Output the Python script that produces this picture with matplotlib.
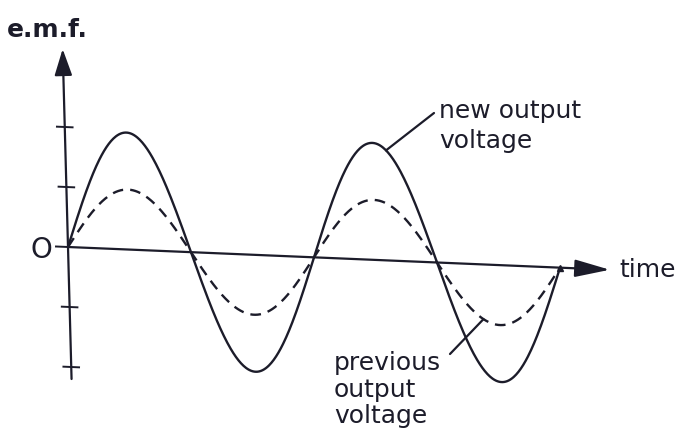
import numpy as np
import matplotlib
matplotlib.use("Agg")
import matplotlib.pyplot as plt
import matplotlib.transforms as mtransforms

INK = "#1c1c2a"
plt.rcParams.update({"font.family": "DejaVu Sans", "font.size": 18})

# wave parameters (one grid unit = one tick spacing)
period = 4.1
cycles = 2
new_amp = 1.95
prev_amp = 1.0
tick_values = [-2, -1, 1, 2]
y_axis_range = (-2.2, 3.3)
t_axis_end = 9.03

fig = plt.figure(figsize=(6.77, 4.35), dpi=100)
ax = fig.add_axes([0, 0, 1, 1])
ax.set_xlim(-68 / 60, (677 - 68) / 60)
ax.set_ylim(-(435 - 248) / 60, 248 / 60)
ax.set_aspect("equal")
ax.axis("off")

# the printed page is slightly skewed
skew = mtransforms.Affine2D(np.array([[1, -0.027, 0], [-0.042, 1, 0], [0, 0, 1]]))
tr = skew + ax.transData

t = np.linspace(0, cycles * period, 600)
new_v = new_amp * np.sin(2 * np.pi * t / period)
prev_v = prev_amp * np.sin(2 * np.pi * t / period)

ax.plot(t, new_v, color=INK, lw=1.7, transform=tr, solid_capstyle="round")
ax.plot(t, prev_v, color=INK, lw=1.7, transform=tr, dashes=(4.5, 3))
ax.plot([t[-1]], [new_v[-1]], marker="^", ms=5, color=INK, transform=tr)

# axes with arrow heads
arrow = dict(arrowstyle="-|>,head_length=0.9,head_width=0.3", color=INK, lw=1.6,
             shrinkA=0, shrinkB=0)
ax.annotate("", xy=(0, y_axis_range[1]), xytext=(0, y_axis_range[0]),
            xycoords=tr, textcoords=tr, arrowprops=arrow)
ax.annotate("", xy=(t_axis_end, 0), xytext=(0, 0),
            xycoords=tr, textcoords=tr,
            arrowprops=dict(arrow, arrowstyle="-|>,head_length=1.2,head_width=0.3"))
for v in tick_values:
    ax.plot([-0.13, 0.13], [v, v], color=INK, lw=1.4, transform=tr)
ax.plot([-0.2, 0], [0, 0], color=INK, lw=1.4, transform=tr)

# labels (figure pixel positions, y measured from the top)
def fp(x, y):
    return x, 435 - y

ax.text(*fp(7, 30), "e.m.f.", transform=None, fontweight="bold", fontsize=18,
        color=INK, va="center", ha="left")
ax.text(*fp(41, 250), "O", transform=None, fontsize=20, color=INK, va="center", ha="center")
ax.text(*fp(619, 270), "time", transform=None, fontsize=18, color=INK, va="center", ha="left")
ax.text(*fp(439, 148), "new output\nvoltage", transform=None, fontsize=18, color=INK,
        va="baseline", ha="left", linespacing=1.3)
ax.text(*fp(334, 423), "previous\noutput\nvoltage", transform=None, fontsize=18, color=INK,
        va="baseline", ha="left", linespacing=1.12)

t_new, t_prev = 5.35, 6.9
leader = dict(arrowstyle="-", color=INK, lw=1.6, shrinkA=0, shrinkB=0)
ax.annotate("", xy=(t_new, new_amp * np.sin(2 * np.pi * t_new / period)), xycoords=tr,
            xytext=fp(434, 114), textcoords="figure pixels", arrowprops=leader)
ax.annotate("", xy=(t_prev, prev_amp * np.sin(2 * np.pi * t_prev / period)), xycoords=tr,
            xytext=fp(450, 355), textcoords="figure pixels", arrowprops=leader)

fig.savefig("out.png", dpi=100, facecolor="white")
